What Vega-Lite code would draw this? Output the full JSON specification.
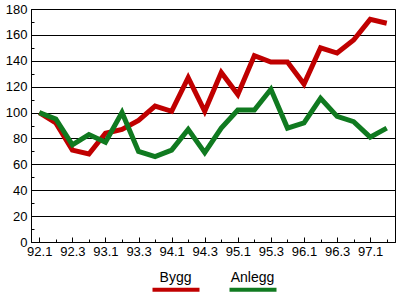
{
  "$schema": "https://vega.github.io/schema/vega-lite/v6.json",
  "width": 364,
  "height": 233,
  "autosize": {"type": "none"},
  "padding": {"left": 31, "top": 9, "right": 5, "bottom": 54},
  "background": "white",
  "config": {
    "font": "Liberation Sans",
    "view": {"stroke": "black", "strokeWidth": 1},
    "axis": {"labelFont": "Liberation Sans", "labelFontSize": 13, "labelColor": "black", "domainColor": "black", "tickColor": "black", "title": null}
  },
  "data": {
    "values": [
      {"q": "92.1", "series": "Bygg", "value": 100},
      {"q": "92.2", "series": "Bygg", "value": 92},
      {"q": "92.3", "series": "Bygg", "value": 71},
      {"q": "92.4", "series": "Bygg", "value": 68},
      {"q": "93.1", "series": "Bygg", "value": 84},
      {"q": "93.2", "series": "Bygg", "value": 87},
      {"q": "93.3", "series": "Bygg", "value": 94},
      {"q": "93.4", "series": "Bygg", "value": 105},
      {"q": "94.1", "series": "Bygg", "value": 101},
      {"q": "94.2", "series": "Bygg", "value": 127},
      {"q": "94.3", "series": "Bygg", "value": 101},
      {"q": "94.4", "series": "Bygg", "value": 131},
      {"q": "95.1", "series": "Bygg", "value": 114},
      {"q": "95.2", "series": "Bygg", "value": 144},
      {"q": "95.3", "series": "Bygg", "value": 139},
      {"q": "95.4", "series": "Bygg", "value": 139},
      {"q": "96.1", "series": "Bygg", "value": 122},
      {"q": "96.2", "series": "Bygg", "value": 150},
      {"q": "96.3", "series": "Bygg", "value": 146},
      {"q": "96.4", "series": "Bygg", "value": 156},
      {"q": "97.1", "series": "Bygg", "value": 172},
      {"q": "97.2", "series": "Bygg", "value": 169},
      {"q": "92.1", "series": "Anlegg", "value": 100},
      {"q": "92.2", "series": "Anlegg", "value": 95},
      {"q": "92.3", "series": "Anlegg", "value": 75},
      {"q": "92.4", "series": "Anlegg", "value": 83},
      {"q": "93.1", "series": "Anlegg", "value": 77},
      {"q": "93.2", "series": "Anlegg", "value": 100},
      {"q": "93.3", "series": "Anlegg", "value": 70},
      {"q": "93.4", "series": "Anlegg", "value": 66},
      {"q": "94.1", "series": "Anlegg", "value": 71},
      {"q": "94.2", "series": "Anlegg", "value": 87},
      {"q": "94.3", "series": "Anlegg", "value": 69},
      {"q": "94.4", "series": "Anlegg", "value": 88},
      {"q": "95.1", "series": "Anlegg", "value": 102},
      {"q": "95.2", "series": "Anlegg", "value": 102},
      {"q": "95.3", "series": "Anlegg", "value": 118},
      {"q": "95.4", "series": "Anlegg", "value": 88},
      {"q": "96.1", "series": "Anlegg", "value": 92},
      {"q": "96.2", "series": "Anlegg", "value": 111},
      {"q": "96.3", "series": "Anlegg", "value": 97},
      {"q": "96.4", "series": "Anlegg", "value": 93},
      {"q": "97.1", "series": "Anlegg", "value": 81},
      {"q": "97.2", "series": "Anlegg", "value": 88}
    ]
  },
  "encoding": {
    "x": {
      "field": "q",
      "type": "ordinal",
      "scale": {"padding": 0.5},
      "axis": {
        "labelAngle": 0,
        "labelExpr": "(slice(datum.value, -1) == '1' || slice(datum.value, -1) == '3') ? datum.value : ''",
        "tickSize": {"condition": {"test": "slice(datum.value, -1) == '1' || slice(datum.value, -1) == '3'", "value": -5}, "value": -3},
        "labelPadding": 8,
        "grid": false
      }
    },
    "y": {
      "field": "value",
      "type": "quantitative",
      "scale": {"domain": [0, 180], "nice": false, "zero": true},
      "axis": {
        "values": [0, 10, 20, 30, 40, 50, 60, 70, 80, 90, 100, 110, 120, 130, 140, 150, 160, 170, 180],
        "labelExpr": "datum.value % 20 == 0 ? datum.label : ''",
        "tickSize": -3,
        "labelPadding": 7,
        "grid": true,
        "gridColor": {"condition": {"test": "datum.value % 20 == 0", "value": "black"}, "value": "transparent"},
        "gridOpacity": 1,
        "gridWidth": 1
      }
    },
    "color": {
      "field": "series",
      "type": "nominal",
      "scale": {"domain": ["Bygg", "Anlegg"], "range": ["#c00000", "#107a20"]},
      "legend": {
        "title": null,
        "orient": "none",
        "legendX": 119.5,
        "legendY": 255,
        "direction": "horizontal",
        "symbolType": "stroke",
        "symbolSize": 2209,
        "symbolStrokeWidth": 4,
        "symbolOpacity": 1,
        "labelAlign": "center",
        "labelBaseline": "alphabetic",
        "labelOffset": -26,
        "labelFont": "Liberation Sans",
        "labelFontSize": 14,
        "labelColor": "black",
        "columnPadding": 14,
        "padding": 0,
        "encode": {"labels": {"update": {"dy": {"value": -8}}}}
      }
    }
  },
  "layer": [
    {"transform": [{"filter": "datum.series == 'Bygg'"}], "mark": {"type": "line", "strokeWidth": 5}},
    {"transform": [{"filter": "datum.series == 'Anlegg'"}], "mark": {"type": "line", "strokeWidth": 5}}
  ]
}
